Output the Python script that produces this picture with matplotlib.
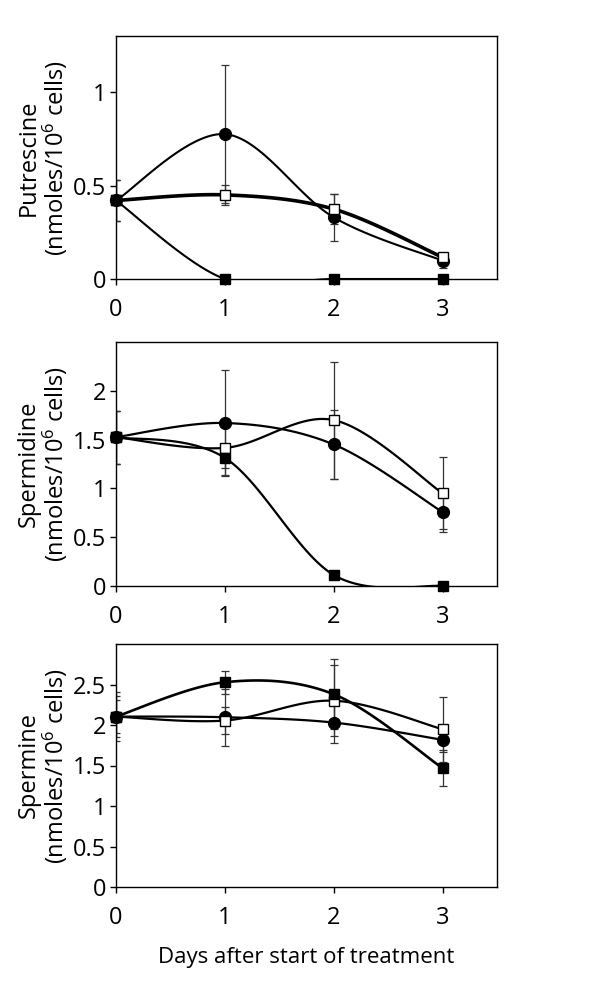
import matplotlib
matplotlib.use('Agg')
import matplotlib.pyplot as plt
import numpy as np

plt.rcParams['font.family'] = ['Open Sans', 'DejaVu Sans']
plt.rcParams['mathtext.fontset'] = 'custom'
plt.rcParams['mathtext.rm'] = 'Open Sans'
plt.rcParams['mathtext.it'] = 'Open Sans'

days = [0, 1, 2, 3]

# Putrescine
put_circle = [0.42, 0.775, 0.33, 0.098]
put_circle_err = [0.11, 0.37, 0.125, 0.04]
put_open = [0.42, 0.45, 0.374, 0.116]
put_open_err = [0.11, 0.055, 0.08, 0.02]
put_filled = [0.42, 0.0, 0.0, 0.0]
put_filled_err = [0.11, 0.0, 0.0, 0.0]

# Spermidine
spd_circle = [1.525, 1.67, 1.45, 0.757]
spd_circle_err = [0.27, 0.54, 0.35, 0.2]
spd_open = [1.525, 1.415, 1.70, 0.95]
spd_open_err = [0.27, 0.28, 0.6, 0.37]
spd_filled = [1.525, 1.313, 0.113, 0.0]
spd_filled_err = [0.27, 0.1, 0.03, 0.0]

# Spermine
spm_circle = [2.104, 2.096, 2.03, 1.817]
spm_circle_err = [0.2, 0.35, 0.25, 0.15]
spm_open = [2.104, 2.055, 2.30, 1.948]
spm_open_err = [0.3, 0.17, 0.44, 0.4]
spm_filled = [2.104, 2.528, 2.38, 1.467]
spm_filled_err = [0.25, 0.14, 0.43, 0.22]

ylabels = ['Putrescine', 'Spermidine', 'Spermine']
ylims = [1.3, 2.5, 3.0]
yticks = [[0, 0.5, 1], [0, 0.5, 1, 1.5, 2], [0, 0.5, 1, 1.5, 2, 2.5]]


def smooth(x, y, n=40):
    # Excel-style smoothed line (Bezier with Catmull-Rom control points)
    x = np.asarray(x, float)
    y = np.asarray(y, float)
    px = np.concatenate([[x[0]], x, [x[-1]]])
    py = np.concatenate([[y[0]], y, [y[-1]]])
    xs, ys = [], []
    t = np.linspace(0, 1, n)
    for i in range(1, len(px) - 2):
        p0 = np.array([px[i], py[i]])
        p3 = np.array([px[i + 1], py[i + 1]])
        c1 = p0 + (np.array([px[i + 1], py[i + 1]]) - np.array([px[i - 1], py[i - 1]])) / 6
        c2 = p3 - (np.array([px[i + 2], py[i + 2]]) - np.array([px[i], py[i]])) / 6
        b = ((1 - t) ** 3)[:, None] * p0 + (3 * (1 - t) ** 2 * t)[:, None] * c1 \
            + (3 * (1 - t) * t ** 2)[:, None] * c2 + (t ** 3)[:, None] * p3
        xs.extend(b[:, 0])
        ys.extend(b[:, 1])
    return xs, ys


panels = [
    [(put_circle, put_circle_err, 'o', 'black', 1.5),
     (put_open, put_open_err, 's', 'white', 2.6),
     (put_filled, put_filled_err, 's', 'black', 1.5)],
    [(spd_circle, spd_circle_err, 'o', 'black', 1.6),
     (spd_open, spd_open_err, 's', 'white', 1.6),
     (spd_filled, spd_filled_err, 's', 'black', 1.6)],
    [(spm_circle, spm_circle_err, 'o', 'black', 1.6),
     (spm_open, spm_open_err, 's', 'white', 1.6),
     (spm_filled, spm_filled_err, 's', 'black', 1.9)],
]

fig = plt.figure(figsize=(6, 9.93), dpi=100)
boxes = [(36, 279), (342, 586), (644, 887)]

for k, (series, (top, bot)) in enumerate(zip(panels, boxes)):
    ax = fig.add_axes([116 / 600, 1 - bot / 993, 381 / 600, (bot - top) / 993])
    for vals, err, mk, face, lw in series:
        ax.errorbar(days, vals, yerr=err, fmt='none', ecolor='#333333',
                    elinewidth=0.9, capsize=3, capthick=0.9, zorder=2)
        sx, sy = smooth(days, vals)
        ax.plot(sx, sy, color='black', lw=lw, zorder=3)
        ax.plot(days, vals, ls='none', marker=mk, mfc=face, mec='black',
                mew=1.0, ms=8.5 if mk == 'o' else 7.8, zorder=4, clip_on=False)
    ax.set_xlim(0, 3.5)
    ax.set_ylim(0, ylims[k])
    ax.set_xticks(days)
    ax.set_yticks(yticks[k])
    ax.set_yticklabels([f'{v:g}' for v in yticks[k]])
    ax.tick_params(direction='out', length=4, width=1, labelsize=17)
    ax.tick_params(axis='x', pad=10)
    ax.tick_params(axis='y', pad=3)
    for s in ax.spines.values():
        s.set_linewidth(1.0)
    ax.set_ylabel(ylabels[k] + '\n(nmoles/10$^{6}$ cells)', fontsize=17,
                  linespacing=1.0)
    ax.yaxis.set_label_coords(-0.122, 0.5)

ax.set_xlabel('Days after start of treatment', fontsize=16, labelpad=12)

fig.savefig('out.png', dpi=100)
plt.close(fig)
